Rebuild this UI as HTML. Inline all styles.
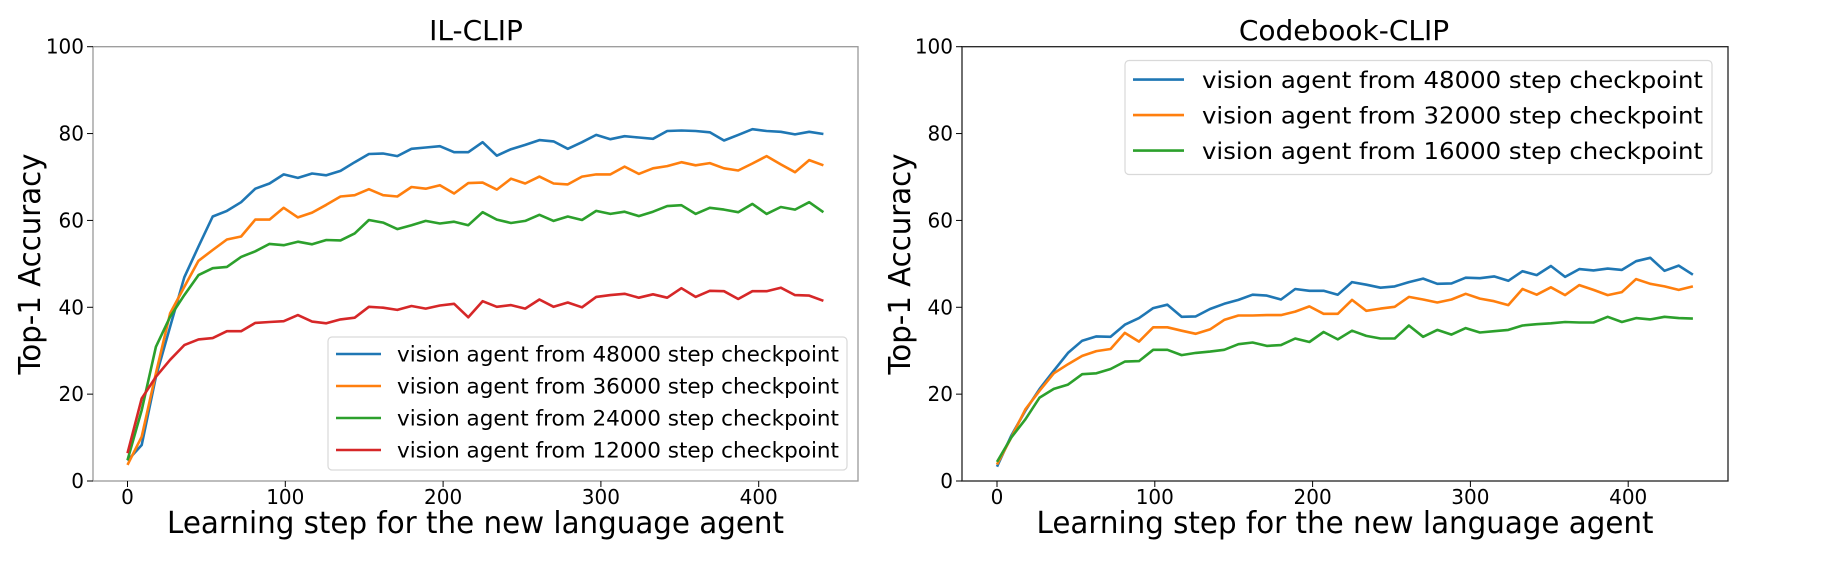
<!DOCTYPE html>
<html><head><meta charset="utf-8">
<style>
html,body{margin:0;padding:0;background:#fff;}
svg{display:block;font-family:"DejaVu Sans","Liberation Sans",sans-serif;}
</style></head>
<body>
<svg id="fig" width="1832" height="586" viewBox="0 0 1832 586" xmlns="http://www.w3.org/2000/svg"></svg>
<script>
const steps = Array.from({length:50},(_, i)=>i*9);
const xTicks = [0,100,200,300,400];
const yTicks = [0,20,40,60,80,100];

const ilBlue = [4.7,8.3,24,35.5,46.9,54,60.9,62.2,64.2,67.3,68.5,70.6,69.8,70.8,70.4,71.4,73.4,75.3,75.4,74.8,76.5,76.8,77.1,75.7,75.7,78,74.9,76.4,77.4,78.5,78.2,76.5,78,79.7,78.7,79.4,79.1,78.8,80.6,80.7,80.6,80.3,78.4,79.7,81,80.6,80.4,79.8,80.4,79.9];
const ilOrange = [3.7,10.2,24.8,38.6,44.7,50.7,53.2,55.6,56.3,60.2,60.2,62.9,60.7,61.8,63.6,65.5,65.8,67.2,65.8,65.5,67.7,67.3,68.1,66.2,68.6,68.7,67.1,69.6,68.5,70.1,68.5,68.3,70.1,70.6,70.6,72.4,70.7,72,72.5,73.4,72.7,73.2,72,71.5,73.1,74.8,72.9,71.1,73.9,72.7];
const ilGreen = [4.8,16.3,30.9,37.8,42.8,47.4,49,49.3,51.6,52.9,54.6,54.3,55.1,54.5,55.5,55.4,57,60.1,59.5,58,58.9,59.9,59.3,59.7,58.9,61.9,60.2,59.4,59.9,61.3,59.9,60.9,60.1,62.2,61.5,62,61,62,63.3,63.5,61.5,62.9,62.5,61.9,63.8,61.5,63.1,62.5,64.2,61.9];
const ilRed = [6.4,19,24,27.9,31.3,32.6,32.9,34.5,34.5,36.4,36.6,36.8,38.2,36.7,36.3,37.2,37.6,40.1,39.9,39.4,40.3,39.7,40.4,40.8,37.7,41.4,40.1,40.5,39.7,41.8,40.1,41.1,40,42.4,42.8,43.1,42.2,43,42.2,44.4,42.4,43.8,43.7,41.9,43.7,43.7,44.5,42.8,42.7,41.5];

const cbBlue = [3.3,10.4,16.2,21.2,25.4,29.5,32.3,33.3,33.2,36,37.5,39.8,40.6,37.8,37.9,39.6,40.8,41.7,42.9,42.7,41.8,44.2,43.8,43.8,42.9,45.8,45.2,44.5,44.8,45.8,46.6,45.4,45.5,46.8,46.7,47.1,46.1,48.3,47.4,49.5,47,48.8,48.5,48.9,48.6,50.6,51.4,48.4,49.6,47.5];
const cbOrange = [3.8,10,16.5,20.8,24.8,26.9,28.8,29.9,30.4,34.1,32.1,35.4,35.4,34.6,33.9,34.9,37.1,38.1,38.1,38.2,38.2,39,40.2,38.5,38.5,41.7,39.2,39.7,40.1,42.4,41.8,41.1,41.8,43.1,42,41.4,40.5,44.2,42.9,44.6,42.8,45.1,44,42.8,43.5,46.5,45.4,44.8,44,44.8];
const cbGreen = [4.4,10,14.2,19.2,21.2,22.2,24.6,24.8,25.8,27.5,27.6,30.2,30.2,29,29.5,29.8,30.2,31.5,31.9,31.1,31.3,32.8,32,34.3,32.6,34.6,33.4,32.8,32.8,35.8,33.2,34.8,33.7,35.2,34.2,34.5,34.8,35.8,36.1,36.3,36.6,36.5,36.5,37.8,36.6,37.5,37.2,37.8,37.5,37.4];

const ilLabels = ["vision agent from 48000 step checkpoint","vision agent from 36000 step checkpoint","vision agent from 24000 step checkpoint","vision agent from 12000 step checkpoint"];
const cbLabels = ["vision agent from 48000 step checkpoint","vision agent from 32000 step checkpoint","vision agent from 16000 step checkpoint"];
const colors = ["#1f77b4","#ff7f0e","#2ca02c","#d62728"];

const NS="http://www.w3.org/2000/svg";
const svg=document.getElementById('fig');
function mk(tag,attrs,parent){const e=document.createElementNS(NS,tag);for(const k in attrs)e.setAttribute(k,attrs[k]);(parent||svg).appendChild(e);return e;}

function drawPanel(opt){
  const g=mk('g',{});
  
  
  const X=v=>opt.x0+v*opt.kx;
  const Y=v=>opt.yb-(v/100)*(opt.yb-opt.yt);
  // series
  opt.series.forEach((s,si)=>{
    const d=steps.map((st,i)=>(i?'L':'M')+X(st).toFixed(1)+','+Y(s[i]).toFixed(1)).join(' ');
    const p=mk('path',{d:d,fill:'none',stroke:colors[si],'stroke-width':2.6,'stroke-linejoin':'round'},g);
    
    
  });
  // frame
  const fr=mk('rect',{x:opt.axL,y:opt.yt,width:opt.axR-opt.axL,height:opt.yb-opt.yt,fill:'none',stroke:opt.frame,'stroke-width':1.3},g);
  
  
  // x ticks
  xTicks.forEach(t=>{
    mk('line',{x1:X(t),x2:X(t),y1:opt.yb,y2:opt.yb+6,stroke:'#000','stroke-width':1},g);
    const tx=mk('text',{x:X(t),y:opt.yb+23,'font-size':20,'text-anchor':'middle',fill:'#000'},g);
    tx.textContent=t;
    
    
  });
  yTicks.forEach(t=>{
    mk('line',{x1:opt.axL-6,x2:opt.axL,y1:Y(t),y2:Y(t),stroke:'#000','stroke-width':1},g);
    const ty=mk('text',{x:opt.axL-9,y:Y(t)+7,'font-size':20,'text-anchor':'end',fill:'#000'},g);
    ty.textContent=t;
    
    
  });
  const ti=mk('text',{x:opt.tcx,y:40,'font-size':28,'text-anchor':'middle',fill:'#000'},g);
  ti.textContent=opt.title;
  
  
  const xl=mk('text',{x:(opt.axL+opt.axR)/2,y:533,'font-size':30,'text-anchor':'middle',fill:'#000',textLength:617,lengthAdjust:'spacingAndGlyphs'},g);
  xl.textContent='Learning step for the new language agent';
  
  
  const yl=mk('text',{x:0,y:0,'font-size':30,'text-anchor':'middle',fill:'#000',textLength:221,lengthAdjust:'spacingAndGlyphs',transform:'translate('+opt.ylx+',264) rotate(-90)'},g);
  yl.textContent='Top-1 Accuracy';
  
  
  // legend
  const L=opt.leg;
  const lg=mk('g',{},g);
  
  
  mk('rect',{x:L.x,y:L.y,width:L.w,height:L.h,rx:4,fill:'#fff','fill-opacity':0.85,stroke:'#d9d9d9','stroke-width':1.2},lg);
  opt.labels.forEach((lab,i)=>{
    const yy=L.row0+i*L.dy;
    mk('line',{x1:L.lx1,x2:L.lx2,y1:yy,y2:yy,stroke:colors[i],'stroke-width':2.6},lg);
    const t=mk('text',{x:L.tx,y:yy+L.fs*0.36,'font-size':L.fs,fill:'#000',textLength:L.tw,lengthAdjust:'spacingAndGlyphs'},lg);
    t.textContent=lab;
    
    
  });
}

drawPanel({name:'il-clip-panel',title:'IL-CLIP',x0:127.5,kx:1.578,yt:46.7,yb:481,axL:93,axR:858,tcx:476,ylx:40,frame:'#999',
  series:[ilBlue,ilOrange,ilGreen,ilRed],snames:['line-48000','line-36000','line-24000','line-12000'],labels:ilLabels,
  leg:{x:328,y:337,w:519,h:133,row0:354,dy:32,lx1:336,lx2:381,tx:397,tw:442,fs:21}});
drawPanel({name:'codebook-clip-panel',title:'Codebook-CLIP',x0:997,kx:1.578,yt:46.7,yb:481,axL:962,axR:1728,tcx:1344,ylx:910,frame:'#222',
  series:[cbBlue,cbOrange,cbGreen],snames:['line-48000','line-32000','line-16000'],labels:cbLabels,
  leg:{x:1125,y:60.5,w:587,h:114,row0:79.6,dy:35.5,lx1:1133,lx2:1184,tx:1202,tw:501,fs:23}});
</script>
</body></html>
